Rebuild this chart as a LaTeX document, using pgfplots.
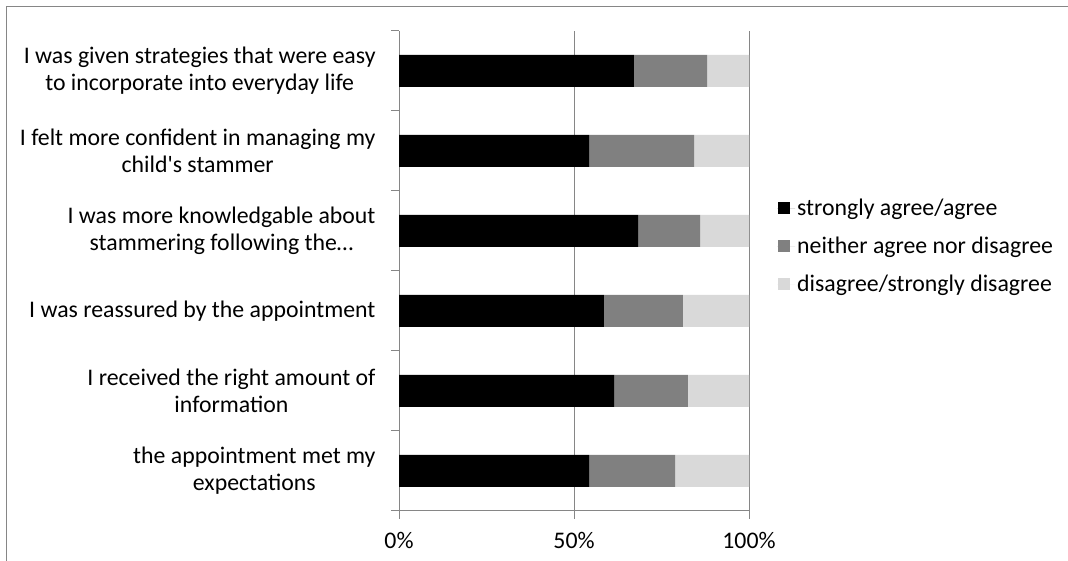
\documentclass[border=0pt]{standalone}
\usepackage{pgfplots}
\pgfplotsset{compat=1.18}
\usepackage{fontspec}
\setmainfont{Carlito}
\definecolor{agr}{RGB}{0,0,0}
\definecolor{neu}{RGB}{128,128,128}
\definecolor{dis}{RGB}{217,217,217}
\definecolor{axgray}{RGB}{134,134,134}
\newcommand{\cf}{\fontsize{23.8bp}{27bp}\selectfont}
\begin{document}
\begin{tikzpicture}[x=1bp,y=1bp]
\useasboundingbox (0,0) rectangle (1068,561);
\draw[axgray, line width=1bp] (6.5,0) -- (6.5,554.5) -- (1068,554.5);
\begin{axis}[
  at={(399bp,50bp)}, anchor=south west,
  width=350bp, height=480bp, scale only axis,
  xbar stacked, bar width=32bp,
  xmin=0, xmax=100, ymin=-0.5, ymax=5.5,
  axis lines*=left,
  axis line style={axgray, line width=1bp, -},
  xtick={0,50,100}, xticklabels={0\%,50\%,100\%},
  xmajorgrids, grid style={axgray, line width=1bp},
  ytick={-0.5,0.5,1.5,2.5,3.5,4.5,5.5},
  yticklabels={{the appointment met my\\expectations},
               {I received the right amount of\\information},
               {I was reassured by the appointment},
               {I was more knowledgable about\\stammering following the…},
               {I felt more confident in managing my\\child\textquotesingle s stammer},
               {I was given strategies that were easy\\to incorporate into everyday life},
               {}},
  yticklabel style={align=center, yshift=40bp, font=\cf, xshift=-12bp},
  xticklabel style={font=\cf, yshift=-10bp},
  tick align=outside, major tick length=8bp,
  tick style={axgray, line width=1bp},
  y grid style={draw=none},
  legend style={at={(1.08,0.552)}, anchor=west, draw=none, fill=none,
                font=\cf, row sep=16bp, inner sep=0pt},
  legend cell align=left,
  legend image code/.code={\path[#1, draw=none] (1bp,-6bp) rectangle (13bp,6bp);
                           \path (0bp,0bp) -- (18bp,0bp);},
]
\addplot[fill=agr, draw=none] coordinates {(54.3,0) (61.5,1) (58.5,2) (68.4,3) (54.3,4) (67.1,5)};
\addplot[fill=neu, draw=none] coordinates {(24.6,0) (21.0,1) (22.6,2) (17.6,3) (30.0,4) (20.9,5)};
\addplot[fill=dis, draw=none] coordinates {(21.1,0) (17.5,1) (18.9,2) (14.0,3) (15.7,4) (12.0,5)};
\legend{strongly agree/agree, neither agree nor disagree, disagree/strongly disagree}
\end{axis}
\end{tikzpicture}
\end{document}
